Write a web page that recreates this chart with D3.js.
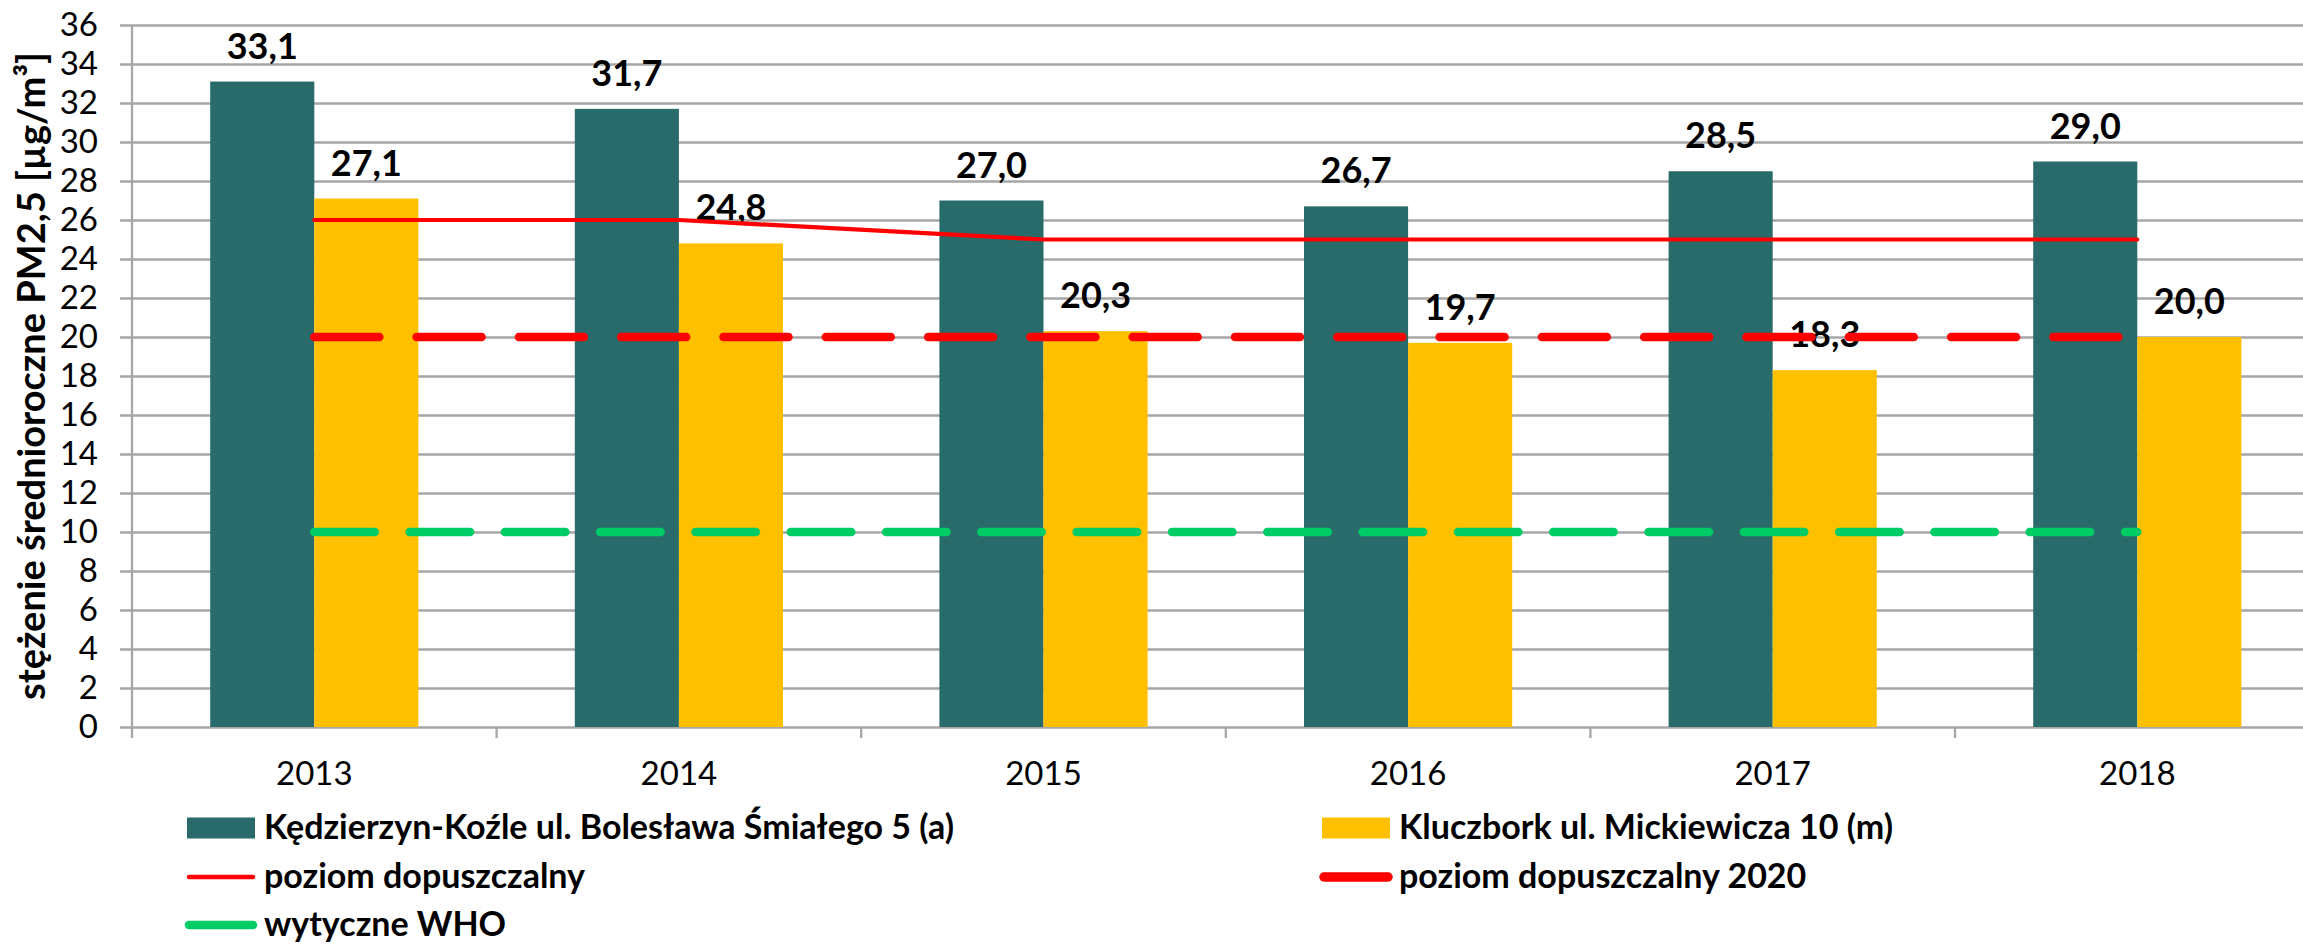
<!DOCTYPE html>
<head>
  <meta charset="utf-8" />
  <script src="https://cdn.jsdelivr.net/npm/d3@7"></script>
  <style>
    body { margin: 0; background: #fff; }
    text { font-family: Lato, "Open Sans", sans-serif; }
  </style>
</head>
<body>
  <svg class="chart" width="2303" height="945"></svg>
  <script>
    const years = ["2013", "2014", "2015", "2016", "2017", "2018"];
    const kedzierzyn = [33.1, 31.7, 27.0, 26.7, 28.5, 29.0];
    const kluczbork = [27.1, 24.8, 20.3, 19.7, 18.3, 20.0];
    const poziom = [26, 26, 25, 25, 25, 25];
    const poziom2020 = [20, 20, 20, 20, 20, 20];
    const who = [10, 10, 10, 10, 10, 10];
    const yTicks = d3.range(0, 37, 2);

    const seriesNames = ["Kędzierzyn-Koźle ul. Bolesława Śmiałego 5 (a)", "Kluczbork ul. Mickiewicza 10 (m)"];
    const barColors = ["#296b6b", "#ffc000"];
    const gridColor = "#a6a6a6";

    const svg = d3.select(".chart");
    const plotLeft = 132, plotTop = 25, plotBottom = 727;
    const bandW = 364.6;

    const x0 = d3.scaleBand().domain(years).range([plotLeft, plotLeft + bandW * years.length]).padding(0);
    const x1 = d3.scaleBand().domain([0, 1]).range([bandW * 0.2145, bandW * 0.7855]).padding(0);
    const y = d3.scaleLinear().domain([0, 36]).range([plotBottom, plotTop]);
    const cx = (yr) => x0(yr) + x0.bandwidth() / 2;

    // gridlines + y axis
    const yAxis = d3.axisLeft(y).tickValues(yTicks).tickSize(-(2303 - plotLeft + 12)).tickPadding(22).tickSizeOuter(0);
    const gy = svg.append("g").attr("transform", `translate(${plotLeft - 12},0)`).call(yAxis);
    gy.select(".domain").remove();
    gy.selectAll(".tick line").attr("stroke", gridColor).attr("stroke-width", 2.3);
    gy.selectAll(".tick text").attr("font-size", 33).attr("fill", "#000").attr("font-family", "Lato");

    svg.append("line").attr("x1", plotLeft).attr("x2", plotLeft).attr("y1", plotTop).attr("y2", plotBottom + 11)
      .attr("stroke", gridColor).attr("stroke-width", 2.3);

    // x axis ticks at band edges
    svg.append("g").selectAll("line").data(years.slice(1)).enter().append("line")
      .attr("x1", (d) => x0(d)).attr("x2", (d) => x0(d))
      .attr("y1", plotBottom).attr("y2", plotBottom + 11)
      .attr("stroke", gridColor).attr("stroke-width", 2.3);
    svg.append("g").selectAll("text").data(years).enter().append("text")
      .attr("x", (d) => cx(d)).attr("y", plotBottom + 58)
      .attr("text-anchor", "middle").attr("font-size", 33).text((d) => d);

    // bars
    const rows = years.map((yr, i) => ({ yr, vals: [kedzierzyn[i], kluczbork[i]] }));
    const groups = svg.append("g").selectAll("g").data(rows).enter().append("g")
      .attr("transform", (d) => `translate(${x0(d.yr)},0)`);
    groups.selectAll("rect").data((d) => d.vals).enter().append("rect")
      .attr("x", (d, i) => x1(i)).attr("width", x1.bandwidth())
      .attr("y", (d) => y(d)).attr("height", (d) => y(0) - y(d))
      .attr("fill", (d, i) => barColors[i]);

    // lines
    const line = d3.line().x((d, i) => cx(years[i])).y((d) => y(d));
    svg.append("path").datum(poziom2020).attr("d", line).attr("fill", "none")
      .attr("stroke", "#ff0000").attr("stroke-width", 8.5).attr("stroke-linecap", "round")
      .attr("stroke-dasharray", "65 37.3");
    svg.append("path").datum(who).attr("d", line).attr("fill", "none")
      .attr("stroke", "#00cc66").attr("stroke-width", 8.5).attr("stroke-linecap", "round")
      .attr("stroke-dasharray", "60.5 34.8");
    svg.append("path").datum(poziom).attr("d", line).attr("fill", "none")
      .attr("stroke", "#ff0000").attr("stroke-width", 4.2).attr("stroke-linecap", "round");

    // data labels
    groups.selectAll("text").data((d) => d.vals).enter().append("text")
      .attr("x", (d, i) => x1(i) + x1.bandwidth() / 2).attr("y", (d) => y(d) - 23)
      .attr("text-anchor", "middle").attr("font-size", 36).attr("font-weight", "bold")
      .text((d) => d.toFixed(1).replace(".", ","));

    // y title
    svg.append("text")
      .attr("transform", `translate(45,${(plotTop + plotBottom) / 2}) rotate(-90)`)
      .attr("text-anchor", "middle").attr("font-size", 38).attr("font-weight", "bold")
      .text("stężenie średnioroczne PM2,5 [µg/m³]");

    // legend
    const legend = [
      { name: seriesNames[0], type: "rect", color: barColors[0], col: 0, row: 0 },
      { name: seriesNames[1], type: "rect", color: barColors[1], col: 1, row: 0 },
      { name: "poziom dopuszczalny", type: "line", color: "#ff0000", w: 4.5, col: 0, row: 1 },
      { name: "poziom dopuszczalny 2020", type: "line", color: "#ff0000", w: 9.5, col: 1, row: 1 },
      { name: "wytyczne WHO", type: "line", color: "#00cc66", w: 8.5, col: 0, row: 2 }
    ];
    const colX = [187, 1322], rowY = [828, 877, 925];
    const lg = svg.append("g").selectAll("g").data(legend).enter().append("g")
      .attr("transform", (d) => `translate(${colX[d.col]},${rowY[d.row]})`);
    lg.filter((d) => d.type === "rect").append("rect")
      .attr("x", 0).attr("y", -10.5).attr("width", 68).attr("height", 21).attr("fill", (d) => d.color);
    lg.filter((d) => d.type === "line").append("line")
      .attr("x1", 2).attr("x2", 66).attr("y1", 0).attr("y2", 0)
      .attr("stroke", (d) => d.color).attr("stroke-width", (d) => d.w).attr("stroke-linecap", "round");
    lg.append("text").attr("x", 77).attr("y", 11).attr("font-size", 34).attr("font-weight", "bold")
      .text((d) => d.name);
  </script>
</body>
